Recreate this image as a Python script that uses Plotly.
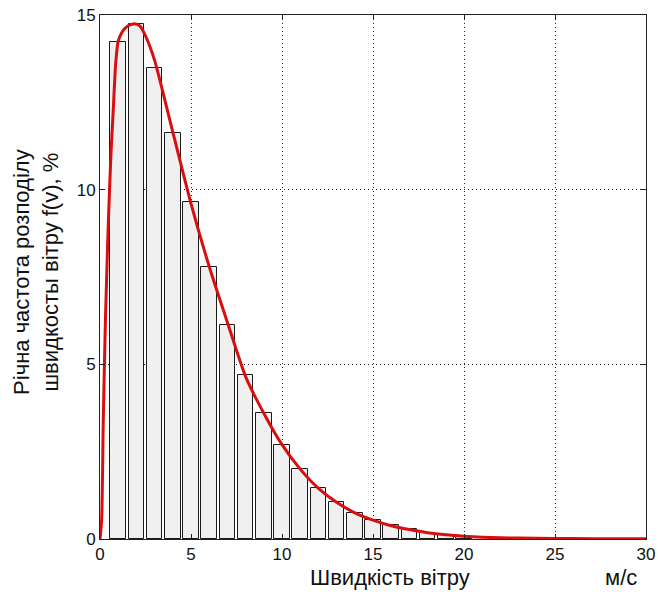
import plotly.graph_objects as go

# Histogram bars (bin centres, %)
bar_x = list(range(1, 21))
bar_y = [14.24, 14.73, 13.49, 11.63, 9.65, 7.78, 6.12, 4.70, 3.60, 2.68,
         2.00, 1.45, 1.05, 0.74, 0.54, 0.40, 0.28, 0.18, 0.12, 0.07]

# Fitted distribution curve
curve_x = [0, 0.09, 0.18, 0.3, 0.46, 0.6, 0.73, 0.86, 1.0, 1.2, 1.5, 1.9, 2.2,
           2.5, 3.0, 3.5, 4.0, 5.0, 6.0, 7.0, 8.0, 9.0, 10.0, 11.0, 12.0, 13.0,
           14.0, 15.0, 16.0, 17.0, 18.0, 19.0, 20.0, 21.0, 22.0, 24.0, 26.0,
           28.0, 30.0]
curve_y = [0, 0.54, 3.4, 6.3, 9.1, 11.0, 12.3, 13.6, 14.25, 14.5, 14.68, 14.75,
           14.68, 14.4, 13.7, 12.7, 11.65, 9.6, 7.8, 6.2, 4.65, 3.6, 2.7, 2.0,
           1.45, 1.05, 0.75, 0.54, 0.38, 0.27, 0.18, 0.12, 0.08, 0.05, 0.035,
           0.02, 0.012, 0.008, 0.005]

x_ticks = [0, 5, 10, 15, 20, 25, 30]
y_ticks = [0, 5, 10, 15]

FONT = "Liberation Sans, Arial, sans-serif"

fig = go.Figure()
fig.add_trace(go.Bar(
    x=bar_x, y=bar_y, width=0.85,
    marker=dict(color="#f0f0f0", line=dict(color="#1a1a1a", width=1)),
    showlegend=False, hoverinfo="skip"))
fig.add_trace(go.Scatter(
    x=curve_x, y=curve_y, mode="lines",
    line=dict(color="#d90f0f", width=3, shape="spline", smoothing=0.6),
    showlegend=False))

axis_common = dict(
    showline=True, linecolor="#222", linewidth=1, mirror="ticks",
    ticks="inside", ticklen=5, tickcolor="#222", automargin=False,
    showgrid=True, gridcolor="#222", griddash="1px,3px", gridwidth=1,
    zeroline=False, tickfont=dict(family=FONT, size=17, color="#111"))

fig.update_xaxes(range=[0, 30], tickvals=x_ticks, ticktext=[str(v) for v in x_ticks],
                 **axis_common)
fig.update_yaxes(range=[0, 15], tickvals=y_ticks, ticktext=[str(v) for v in y_ticks],
                 **axis_common)

fig.add_annotation(text="Швидкість вітру", xref="paper", yref="paper",
                   x=0.531, y=-0.073, xanchor="center", yanchor="middle",
                   borderpad=0, showarrow=False,
                   font=dict(family=FONT, size=22, color="#111"))
fig.add_annotation(text="м/с", xref="paper", yref="paper",
                   x=0.954, y=-0.073, xanchor="center", yanchor="middle",
                   borderpad=0, showarrow=False,
                   font=dict(family=FONT, size=22, color="#111"))
fig.add_annotation(text="Річна частота розподілу<br>швидкосты вітру f(v), %",
                   xref="paper", yref="paper", x=-0.117, y=0.51,
                   xanchor="center", yanchor="middle", textangle=-90,
                   borderpad=0, showarrow=False,
                   font=dict(family=FONT, size=22, color="#111"))

fig.update_layout(
    width=658, height=592,
    margin=dict(l=100, r=12, t=15, b=53),
    plot_bgcolor="white", paper_bgcolor="white",
    bargap=0, barmode="overlay")

fig.write_html("out.html")
